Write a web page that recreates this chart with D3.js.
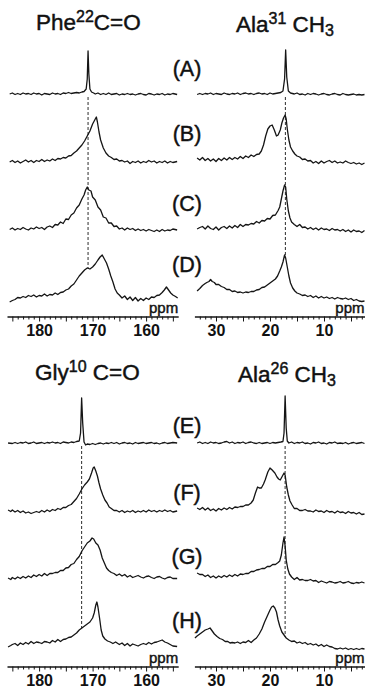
<!DOCTYPE html>
<html>
<head>
<meta charset="utf-8">
<script src="https://cdn.jsdelivr.net/npm/d3@7"></script>
<style>
  html, body { margin: 0; padding: 0; background: #fff; }
  svg { display: block; }
  text { font-family: Arial, "Liberation Sans", Helvetica, sans-serif; fill: #111; }
</style>
</head>
<body>
<svg id="fig" width="365" height="689"></svg>
<script>
// ---- 13C CP-MAS spectra: [chemical shift (ppm), intensity (a.u.)] ----

// Phe22 carbonyl
const pheA = [[185.5,0],[185,2],[184.5,-1],[184,1],[183.5,-1],[183,2],[182.5,0],[182,1],[181.5,-1],[181,2],[180.5,0],[180,1],[179.5,-2],[179,1],[178.5,0],[178,-1],[177.5,2],[177,0],[176.5,1],[176,-1],[175.5,2],[175,1],[174.5,3],[174,1],[173.5,2],[173,3],[172.5,2],[172,4],[171.6,5],[171.2,10],[171.0,30],[170.85,86],[170.7,40],[170.5,10],[170.2,4],[169.8,2],[169.5,0],[169,2],[168.5,-1],[168,1],[167.5,-1],[167,2],[166.5,-1],[166,0],[165.5,1],[165,-2],[164.5,0],[164,-1],[163.5,1],[163,-1],[162.5,0],[162,-2],[161.5,0],[161,1],[160.5,-1],[160,-2],[159.5,1],[159,0],[158.5,-2],[158,0],[157.5,-1],[157,1],[156.5,-2],[156,0],[155.5,-1],[155,1],[154.2,-1]];
const pheB = [[185.5,0],[185,3],[184.5,-1],[184,2],[183.5,-2],[183,1],[182.5,4],[182,0],[181.5,3],[181,-1],[180.5,3],[180,1],[179.5,5],[179,1],[178.5,4],[178,2],[177.5,6],[177,3],[176.5,7],[176,6],[175.5,9],[175,8],[174.5,12],[174,13],[173.5,18],[173,22],[172.5,28],[172,34],[171.5,42],[171,52],[170.5,62],[170,76],[169.6,84],[169.3,90],[169.1,80],[168.8,60],[168.5,44],[168,28],[167.5,18],[167,12],[166.5,9],[166,5],[165.5,6],[165,2],[164.5,3],[164,0],[163.5,2],[163,-3],[162.5,1],[162,-1],[161.5,2],[161,-2],[160.5,1],[160,-1],[159.5,3],[159,0],[158.5,2],[158,-2],[157.5,1],[157,-1],[156.5,2],[156,-2],[155.5,1],[155,-1],[154.2,1]];
const pheC = [[185.5,-1],[185,2],[184.5,-2],[184,1],[183.5,-1],[183,3],[182.5,0],[182,-2],[181.5,2],[181,0],[180.5,4],[180,1],[179.5,3],[179,-1],[178.5,4],[178,6],[177.5,3],[177,9],[176.5,8],[176,14],[175.5,11],[175,20],[174.5,19],[174,28],[173.5,32],[173,42],[172.5,48],[172,60],[171.6,68],[171.3,78],[171.0,84],[170.7,78],[170.3,76],[170,64],[169.5,58],[169,44],[168.5,38],[168,24],[167.5,22],[167,12],[166.5,12],[166,5],[165.5,6],[165,0],[164.5,2],[164,-2],[163.5,2],[163,-1],[162.5,1],[162,-3],[161.5,0],[161,-3],[160.5,-1],[160,-4],[159.5,-1],[159,-3],[158.5,-5],[158,-2],[157.5,-5],[157,-1],[156.5,-4],[156,-2],[155.5,-3],[155,0],[154.2,-2]];
const pheD = [[185.5,-4],[185,-1],[184.5,1],[184,5],[183.5,4],[183,7],[182.5,5],[182,9],[181.5,7],[181,10],[180.5,6],[180,9],[179.5,8],[179,12],[178.5,8],[178,11],[177.5,10],[177,14],[176.5,11],[176,15],[175.5,16],[175,20],[174.5,22],[174,28],[173.5,32],[173,40],[172.5,48],[172,54],[171.5,60],[171,64],[170.5,62],[170,66],[169.5,72],[169,80],[168.6,86],[168.2,90],[167.8,82],[167.4,74],[167,62],[166.6,48],[166.2,36],[165.8,22],[165.4,14],[165,10],[164.5,4],[164,8],[163.5,1],[163,6],[162.5,-1],[162,5],[161.5,-2],[161,3],[160.5,-1],[160,4],[159.5,1],[159,6],[158.5,5],[158,9],[157.5,10],[157,15],[156.6,20],[156.2,26],[155.8,20],[155.4,14],[155,10],[154.5,7],[154.1,4]];

// Ala31 methyl
const ala31A = [[33.5,-1],[33,1],[32.5,-1],[32,1],[31.5,0],[31,2],[30.5,-1],[30,1],[29.5,0],[29,-1],[28.5,2],[28,0],[27.5,-1],[27,1],[26.5,0],[26,2],[25.5,-1],[25,1],[24.5,2],[24,0],[23.5,1],[23,-1],[22.5,1],[22,2],[21.5,0],[21,1],[20.5,-1],[20,2],[19.5,0],[19,1],[18.5,2],[18,3],[17.6,6],[17.3,30],[17.1,88],[16.9,34],[16.6,6],[16.2,2],[15.5,0],[15,2],[14.5,-1],[14,0],[13.5,-2],[13,1],[12.5,-1],[12,1],[11.5,0],[11,-2],[10.5,0],[10,1],[9.5,-1],[9,-2],[8.5,0],[8,1],[7.5,-1],[7,-2],[6.5,1],[6,-1],[5.5,-2],[5,-1],[4.5,0],[4,-2],[3.5,-1],[3,-2],[2.5,-1]];
const ala31B = [[33.5,8],[33,4],[32.5,9],[32,3],[31.5,7],[31,2],[30.5,6],[30,1],[29.5,7],[29,3],[28.5,8],[28,4],[27.5,9],[27,5],[26.5,9],[26,6],[25.5,11],[25,7],[24.5,12],[24,9],[23.5,14],[23,11],[22.5,15],[22,16],[21.6,22],[21.2,34],[20.8,52],[20.4,66],[20.0,72],[19.6,74],[19.2,64],[18.8,52],[18.5,54],[18.1,64],[17.8,78],[17.5,88],[17.2,94],[17.0,86],[16.8,66],[16.5,44],[16.2,30],[15.8,22],[15.4,16],[15,12],[14.5,10],[14,5],[13.5,6],[13,2],[12.5,3],[12,-2],[11.5,1],[11,-3],[10.5,2],[10,-2],[9.5,1],[9,3],[8.5,-1],[8,2],[7.5,-2],[7,0],[6.5,-2],[6,2],[5.5,-1],[5,-3],[4.5,-1],[4,-4],[3.5,-2],[3,-5],[2.5,-2]];
const ala31C = [[33.5,0],[33,3],[32.5,5],[32,0],[31.5,6],[31,1],[30.5,-1],[30,4],[29.5,-2],[29,3],[28.5,5],[28,1],[27.5,6],[27,2],[26.5,7],[26,3],[25.5,9],[25,5],[24.5,9],[24,8],[23.5,11],[23,10],[22.5,15],[22,12],[21.5,17],[21,16],[20.5,21],[20,20],[19.5,27],[19,28],[18.5,37],[18.2,44],[17.9,60],[17.6,76],[17.3,88],[17.1,84],[16.9,60],[16.6,36],[16.3,22],[16,14],[15.5,9],[15,5],[14.5,9],[14,3],[13.5,4],[13,0],[12.5,3],[12,-1],[11.5,2],[11,-2],[10.5,2],[10,-1],[9.5,0],[9,-3],[8.5,1],[8,-2],[7.5,-1],[7,-4],[6.5,-1],[6,-5],[5.5,-2],[5,-6],[4.5,-2],[4,-5],[3.5,-4],[3,-7],[2.5,-3]];
const ala31D = [[33.5,18],[33,23],[32.5,29],[32,33],[31.7,35],[31.3,37],[31,41],[30.7,37],[30.3,35],[30,31],[29.5,31],[29,27],[28.5,25],[28,21],[27.5,21],[27,17],[26.5,18],[26,15],[25.5,16],[25,14],[24.5,16],[24,15],[23.5,17],[23,17],[22.5,20],[22,21],[21.5,25],[21,26],[20.5,30],[20,34],[19.5,38],[19,42],[18.6,48],[18.2,58],[17.9,66],[17.6,76],[17.3,90],[17.1,84],[16.8,66],[16.5,48],[16.2,34],[15.8,24],[15.4,18],[15,14],[14.5,12],[14,9],[13.5,10],[13,7],[12.5,9],[12,5],[11.5,8],[11,4],[10.5,7],[10,4],[9.5,6],[9,3],[8.5,5],[8,2],[7.5,5],[7,3],[6.5,2],[6,4],[5.5,1],[5,3],[4.5,-1],[4,1],[3.5,-2],[3,-3],[2.5,-2]];

// Gly10 carbonyl
const glyE = [[185.8,0],[185,-1],[184.5,1],[184,-1],[183.5,1],[183,0],[182.5,2],[182,-1],[181.5,0],[181,2],[180.5,-1],[180,0],[179.5,1],[179,-1],[178.5,1],[178,0],[177.5,2],[177,0],[176.5,1],[176,-1],[175.5,2],[175,1],[174.5,0],[174,2],[173.5,1],[173,3],[172.5,4],[172.25,20],[172.05,90],[171.85,40],[171.6,2],[171.3,-4],[171,-2],[170.5,-3],[170,-1],[169.5,-3],[169,-1],[168.5,0],[168,-2],[167.5,0],[167,-1],[166.5,1],[166,-1],[165.5,1],[165,-2],[164.5,0],[164,1],[163.5,-1],[163,0],[162.5,-2],[162,1],[161.5,-1],[161,0],[160.5,1],[160,-1],[159.5,0],[159,1],[158.5,-1],[158,0],[157.5,-2],[157,0],[156.5,1],[156,-1],[155.5,0],[155,1],[154.2,0]];
const glyF = [[185.8,2],[185.3,-1],[185,2],[184.5,-2],[184,1],[183.5,-3],[183,0],[182.5,-4],[182,-2],[181.5,-5],[181,-3],[180.5,-1],[180,-3],[179.5,1],[179,-2],[178.5,2],[178,-1],[177.5,3],[177,1],[176.5,5],[176,3],[175.5,7],[175,7],[174.5,11],[174,13],[173.5,19],[173,25],[172.5,34],[172,44],[171.5,52],[171,58],[170.6,64],[170.2,76],[169.9,86],[169.7,88],[169.4,80],[169.1,70],[168.8,56],[168.5,44],[168.1,32],[167.7,22],[167.3,16],[166.9,8],[166.5,5],[166,1],[165.5,1],[165,-2],[164.5,1],[164,-3],[163.5,0],[163,-2],[162.5,1],[162,-3],[161.5,0],[161,-2],[160.5,1],[160,-2],[159.5,2],[159,-1],[158.5,1],[158,-2],[157.5,1],[157,-1],[156.5,2],[156,-1],[155.5,1],[155,-2],[154.2,0]];
const glyG = [[185.8,0],[185.3,-3],[185,1],[184.5,-2],[184,2],[183.5,-1],[183,3],[182.5,0],[182,4],[181.5,1],[181,6],[180.5,3],[180,7],[179.5,4],[179,9],[178.5,5],[178,9],[177.5,9],[177,11],[176.5,11],[176,15],[175.5,15],[175,20],[174.5,21],[174,27],[173.5,29],[173,37],[172.5,43],[172,54],[171.5,62],[171,70],[170.5,74],[170.1,80],[169.8,78],[169.4,70],[169,66],[168.6,56],[168.2,40],[167.8,30],[167.4,20],[167,15],[166.5,11],[166,9],[165.5,5],[165,8],[164.5,4],[164,7],[163.5,2],[163,5],[162.5,1],[162,3],[161.5,5],[161,2],[160.5,0],[160,3],[159.5,4],[159,1],[158.5,-1],[158,2],[157.5,3],[157,0],[156.5,-2],[156,1],[155.5,2],[155,-1],[154.2,-1]];
const glyH = [[185.8,-4],[185.3,-1],[185,1],[184.5,3],[184,-1],[183.5,4],[183,1],[182.5,5],[182,2],[181.5,7],[181,3],[180.5,6],[180,5],[179.5,3],[179,7],[178.5,6],[178,4],[177.5,9],[177,6],[176.5,11],[176,7],[175.5,11],[175,12],[174.5,15],[174,16],[173.5,20],[173,24],[172.5,30],[172,34],[171.5,38],[171,42],[170.5,46],[170,54],[169.7,64],[169.4,80],[169.2,86],[169.0,76],[168.7,54],[168.4,30],[168.1,18],[167.7,12],[167.2,8],[166.7,6],[166.2,3],[165.7,6],[165,1],[164.5,4],[164,-1],[163.5,3],[163,-2],[162.5,2],[162,0],[161.5,-2],[161,1],[160.5,3],[160,1],[159.5,5],[159,2],[158.5,5],[158,6],[157.5,8],[157,10],[156.5,6],[156,4],[155.5,1],[155,-2],[154.2,-3]];

// Ala26 methyl
const ala26E = [[33.5,0],[33,2],[32.5,-1],[32,1],[31.5,-1],[31,2],[30.5,0],[30,1],[29.5,-1],[29,0],[28.5,2],[28,3],[27.5,0],[27,2],[26.5,-1],[26,1],[25.5,0],[25,2],[24.5,-1],[24,1],[23.5,2],[23,0],[22.5,-1],[22,1],[21.5,-1],[21,0],[20.5,1],[20,-1],[19.5,1],[19,0],[18.5,1],[18,2],[17.6,3],[17.4,20],[17.2,94],[17.0,30],[16.8,4],[16.5,0],[16,2],[15.5,-1],[15,1],[14.5,0],[14,2],[13.5,-1],[13,0],[12.5,-2],[12,1],[11.5,0],[11,2],[10.5,-1],[10,0],[9.5,-2],[9,1],[8.5,0],[8,2],[7.5,-1],[7,0],[6.5,-1],[6,1],[5.5,-2],[5,0],[4.5,1],[4,-1],[3.5,0],[3,1],[2.5,-1]];
const ala26F = [[33.5,6],[33,3],[32.5,7],[32,2],[31.5,6],[31,1],[30.5,4],[30,0],[29.5,5],[29,2],[28.5,6],[28,3],[27.5,7],[27,4],[26.5,8],[26,7],[25.5,9],[25,9],[24.5,12],[24,12],[23.5,16],[23.1,22],[22.7,36],[22.3,48],[22.0,46],[21.6,46],[21.2,54],[20.9,62],[20.4,78],[20.0,86],[19.6,82],[19.1,76],[18.7,68],[18.4,64],[18.1,62],[17.8,68],[17.4,76],[17.2,72],[16.9,48],[16.6,32],[16.3,20],[15.9,12],[15.5,5],[15,5],[14.5,1],[14,1],[13.5,3],[13,0],[12.5,0],[12,-2],[11.5,2],[11,-1],[10.5,0],[10,-3],[9.5,1],[9,-2],[8.5,-1],[8,-4],[7.5,0],[7,-3],[6.5,-2],[6,-5],[5.5,-1],[5,-4],[4.5,-3],[4,-6],[3.5,-3],[3,-7],[2.5,-6]];
const ala26G = [[33.5,10],[33,7],[32.5,7],[32,3],[31.5,6],[31,1],[30.5,4],[30,0],[29.5,4],[29,1],[28.5,5],[28,2],[27.5,6],[27,3],[26.5,7],[26,4],[25.5,8],[25,7],[24.5,9],[24,9],[23.5,13],[23,13],[22.5,16],[22,17],[21.5,19],[21,19],[20.5,23],[20,23],[19.5,27],[19,27],[18.5,31],[18.2,34],[17.9,46],[17.6,70],[17.4,82],[17.2,64],[17.0,36],[16.7,18],[16.4,8],[16,2],[15.5,-3],[15,1],[14.5,-4],[14,-3],[13.5,-5],[13,-5],[12.5,-3],[12,-6],[11.5,-5],[11,-9],[10.5,-6],[10,-8],[9.5,-10],[9,-7],[8.5,-8],[8,-10],[7.5,-9],[7,-7],[6.5,-10],[6,-9],[5.5,-7],[5,-10],[4.5,-11],[4,-9],[3.5,-10],[3,-8],[2.5,-10]];
const ala26H = [[33.9,14],[33.5,18],[33,22],[32.5,26],[32,30],[31.5,32],[31.1,34],[30.7,28],[30.3,22],[29.8,17],[29.3,13],[28.8,11],[28.3,7],[27.8,7],[27.4,4],[27,5],[26.5,4],[26,6],[25.5,3],[25,6],[24.5,5],[24,9],[23.5,5],[23,10],[22.5,14],[22,22],[21.5,32],[21,46],[20.5,58],[20,70],[19.7,76],[19.4,78],[19.1,74],[18.8,66],[18.5,50],[18.2,38],[17.8,26],[17.4,20],[17,14],[16.5,10],[16,7],[15.5,8],[15,4],[14.5,6],[14,3],[13.5,5],[13,1],[12.5,3],[12,0],[11.5,2],[11,-2],[10.5,1],[10,-3],[9.5,0],[9,-3],[8.5,-4],[8,-7],[7.5,-8],[7,-6],[6.5,-8],[6,-6],[5.5,-9],[5,-7],[4.5,-9],[4,-7],[3.5,-9],[3,-7],[2.5,-8]];

// Reference shifts marked by the dashed guide lines (ppm)
const refShifts = [170.85, 17.15, 172.05, 17.2];

// Axis tick labels (ppm)
const carbonylTicks = [180, 170, 160];
const methylTicks = [30, 20, 10];

// Panel headings: [residue, superscript, group, subscript]
const headings = [
  ["Phe", "22", "C=O", ""],
  ["Ala", "31", " CH", "3"],
  ["Gly", "10", " C=O", ""],
  ["Ala", "26", " CH", "3"]
];
const rowLetters = ["A", "B", "C", "D", "E", "F", "G", "H"];

// ---------------------------------------------------------------
const svg = d3.select("#fig");
const ink = "#151515";

const xCarbonyl = d3.scaleLinear().domain([186, 154]).range([7, 178.2]);
const xMethyl = d3.scaleLinear().domain([34, 2.5]).range([194.4, 364.5]);
const amp = d3.scaleLinear().domain([0, 100]).range([0, 50]);

const topRows = [94, 162, 229, 300];
const bottomRows = [443, 511, 578, 645];

const panels = [
  { x: xCarbonyl, traces: [pheA, pheB, pheC, pheD], rows: topRows, axisY: 316.5, ticks: carbonylTicks, tickRange: [155, 185], head: headings[0], headX: 36, headY: 30, ref: refShifts[0] },
  { x: xMethyl, traces: [ala31A, ala31B, ala31C, ala31D], rows: topRows, axisY: 316.5, ticks: methylTicks, tickRange: [3, 33], head: headings[1], headX: 236, headY: 32, ref: refShifts[1] },
  { x: xCarbonyl, traces: [glyE, glyF, glyG, glyH], rows: bottomRows, axisY: 666.5, ticks: carbonylTicks, tickRange: [155, 185], head: headings[2], headX: 35, headY: 380, ref: refShifts[2] },
  { x: xMethyl, traces: [ala26E, ala26F, ala26G, ala26H], rows: bottomRows, axisY: 666.5, ticks: methylTicks, tickRange: [3, 33], head: headings[3], headX: 238, headY: 382, ref: refShifts[3] }
];

// linear lookup of a trace's intensity at a given shift
function valueAt(trace, ppm) {
  for (let i = 0; i < trace.length - 1; i++) {
    const a = trace[i], b = trace[i + 1];
    if ((a[0] - ppm) * (b[0] - ppm) <= 0) {
      const t = (ppm - a[0]) / (b[0] - a[0]);
      return a[1] + t * (b[1] - a[1]);
    }
  }
  return 0;
}

const heavy = sel => sel.style("stroke", "#111").style("stroke-width", "0.45px").style("paint-order", "fill");

panels.forEach(p => {
  const g = svg.append("g");

  // dashed guide line through the stack
  const last = p.traces[p.traces.length - 1];
  const yEnd = p.rows[p.rows.length - 1] - amp(valueAt(last, p.ref));
  g.append("line")
    .attr("x1", p.x(p.ref)).attr("x2", p.x(p.ref))
    .attr("y1", p.rows[0] + 3).attr("y2", yEnd)
    .attr("stroke", ink).attr("stroke-width", 0.9)
    .attr("stroke-dasharray", "3,2");

  // spectra
  p.traces.forEach((tr, i) => {
    const base = p.rows[i];
    const line = d3.line()
      .x(d => p.x(d[0]))
      .y(d => base - amp(d[1]));
    g.append("path")
      .datum(tr)
      .attr("d", line)
      .attr("fill", "none")
      .attr("stroke", ink)
      .attr("stroke-width", 1.3)
      .attr("stroke-linejoin", "round");
  });

  // ppm axis
  const minor = d3.range(p.tickRange[0], p.tickRange[1] + 1);
  const axis = d3.axisBottom(p.x)
    .tickValues(minor)
    .tickSize(3)
    .tickSizeOuter(0)
    .tickFormat(d => p.ticks.includes(d) ? d : "");
  const ax = g.append("g")
    .attr("transform", `translate(0,${p.axisY})`)
    .call(axis);
  ax.select(".domain").attr("stroke", ink).attr("stroke-width", 1.6);
  ax.selectAll(".tick line")
    .attr("stroke", ink)
    .attr("stroke-width", 1)
    .attr("y2", d => d % 5 === 0 ? 5 : 3);
  ax.selectAll(".tick text")
    .attr("y", 19).attr("dy", 0)
    .style("font-family", "Arial, 'Liberation Sans', sans-serif")
    .style("font-size", "16px")
    .style("font-weight", "bold")
    .style("fill", "#111");

  // unit label
  g.append("text")
    .attr("x", p.x.range()[1])
    .attr("y", p.axisY - 4)
    .attr("text-anchor", "end")
    .style("font-size", "15px")
    .call(heavy)
    .text("ppm");

  // heading
  const h = g.append("text")
    .attr("x", p.headX).attr("y", p.headY)
    .style("font-size", "22.5px")
    .call(heavy);
  h.append("tspan").text(p.head[0]);
  h.append("tspan").attr("dy", -8.5).style("font-size", "16px").text(p.head[1]);
  h.append("tspan").attr("dy", 8.5).text(p.head[2]);
  if (p.head[3]) h.append("tspan").attr("dy", 4).style("font-size", "16px").text(p.head[3]);
});

// spectrum letters between the two columns
const letterY = [68, 133, 203, 264, 425, 492, 556, 620];
rowLetters.forEach((L, i) => {
  svg.append("text")
    .attr("x", 187).attr("y", letterY[i])
    .attr("dy", "0.36em")
    .attr("text-anchor", "middle")
    .style("font-size", "21.5px")
    .call(heavy)
    .text(`(${L})`);
});
</script>
</body>
</html>
